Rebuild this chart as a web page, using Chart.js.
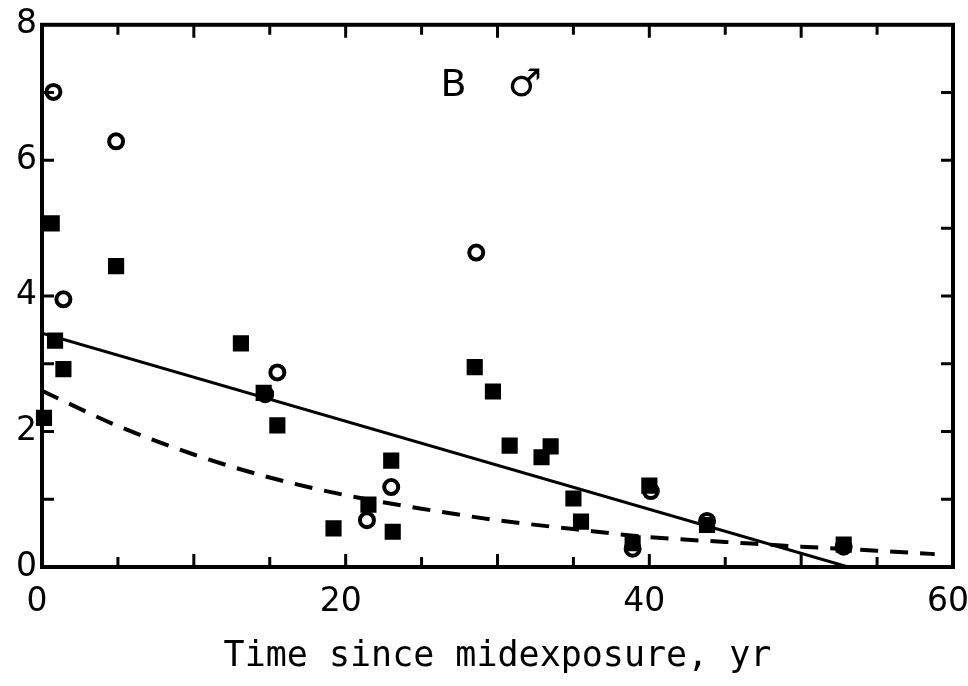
<!DOCTYPE html>
<html>
<head>
<meta charset="utf-8">
<script src="https://cdn.jsdelivr.net/npm/chart.js@4"></script>
<style>
  html, body { margin: 0; padding: 0; background: #fff; overflow: hidden; }
  canvas { display: block; }
</style>
</head>
<body>
<canvas id="riskChart" width="968" height="686"></canvas>
<script>
// filled squares
const squareX = [0.13, 0.64, 0.86, 1.41, 4.88, 13.1, 14.6, 15.5, 19.2, 21.5, 23.0, 23.1,
                 28.5, 29.7, 30.8, 32.9, 33.5, 35.0, 35.5, 38.9, 40.0, 43.8, 52.8];
const squareY = [2.20, 5.07, 3.34, 2.92, 4.44, 3.30, 2.57, 2.09, 0.57, 0.92, 1.57, 0.52,
                 2.95, 2.59, 1.79, 1.62, 1.78, 1.01, 0.67, 0.35, 1.20, 0.62, 0.33];

// open circles
const circleX = [0.75, 1.41, 4.88, 14.7, 15.5, 21.4, 23.0, 28.6, 38.9, 40.1, 43.8, 52.8];
const circleY = [7.01, 3.95, 6.28, 2.55, 2.87, 0.69, 1.18, 4.64, 0.27, 1.12, 0.68, 0.30];

// fitted lines
const solidX = [0, 53.1];
const solidY = [3.45, 0];
const dashX = [0, 5, 10, 15, 20, 25, 30, 35, 40, 45, 50, 55, 58.8];
const dashY = [2.6, 2.08, 1.66, 1.32, 1.06, 0.86, 0.69, 0.56, 0.44, 0.37, 0.30, 0.24, 0.19];

const xTickLabels = [0, 20, 40, 60];
const yTickLabels = [0, 2, 4, 6, 8];
const panelText = ['B', '\u2642'];
const panelX = [27.1, 31.8];
const panelY = [7.1, 7.1];

const toPoints = (xs, ys) => xs.map((v, i) => ({ x: v, y: ys[i] }));

// frame with inward ticks on all four sides, plus the panel label
const framePlugin = {
  id: 'frame',
  afterDatasetsDraw(chart) {
    const { ctx, chartArea: a, scales: { x, y } } = chart;
    ctx.save();
    ctx.strokeStyle = '#000';
    ctx.lineCap = 'butt';
    ctx.lineWidth = 4;
    ctx.strokeRect(a.left, a.top, a.right - a.left, a.bottom - a.top);
    ctx.lineWidth = 3;
    ctx.beginPath();
    for (let v = 5; v < 60; v += 5) {
      const px = x.getPixelForValue(v);
      const len = v % 10 === 0 ? 13 : 10;
      ctx.moveTo(px, a.bottom); ctx.lineTo(px, a.bottom - len);
      ctx.moveTo(px, a.top); ctx.lineTo(px, a.top + len);
    }
    for (let v = 1; v < 8; v++) {
      const py = y.getPixelForValue(v);
      ctx.moveTo(a.left, py); ctx.lineTo(a.left + 12, py);
      ctx.moveTo(a.right, py); ctx.lineTo(a.right - 12, py);
    }
    ctx.stroke();

    ctx.fillStyle = '#000';
    ctx.font = '38px "DejaVu Sans"';
    ctx.textAlign = 'center';
    ctx.textBaseline = 'middle';
    panelText.forEach((t, i) => {
      ctx.fillText(t, x.getPixelForValue(panelX[i]), y.getPixelForValue(panelY[i]));
    });
    ctx.restore();
  }
};

const ctx = document.getElementById('riskChart').getContext('2d');
new Chart(ctx, {
  type: 'scatter',
  data: {
    datasets: [
      {
        type: 'line',
        data: toPoints(solidX, solidY),
        borderColor: '#000',
        borderWidth: 3,
        pointRadius: 0,
        fill: false
      },
      {
        type: 'line',
        data: toPoints(dashX, dashY),
        borderColor: '#000',
        borderWidth: 4,
        borderDash: [18, 12],
        pointRadius: 0,
        cubicInterpolationMode: 'monotone',
        fill: false
      },
      {
        data: toPoints(squareX, squareY),
        pointStyle: 'rect',
        pointRadius: 10,
        backgroundColor: '#000',
        borderColor: '#000',
        borderWidth: 2,
        clip: false
      },
      {
        data: toPoints(circleX, circleY),
        pointStyle: 'circle',
        pointRadius: 7,
        backgroundColor: 'rgba(255,255,255,0)',
        borderColor: '#000',
        borderWidth: 4,
        clip: false
      }
    ]
  },
  options: {
    responsive: false,
    animation: false,
    layout: { padding: { top: 23, right: 15, bottom: 0, left: 0 } },
    plugins: { legend: { display: false }, tooltip: { enabled: false } },
    scales: {
      x: {
        type: 'linear',
        min: 0,
        max: 60,
        grid: { display: false, drawTicks: false },
        border: { display: false },
        ticks: {
          stepSize: 20,
          autoSkip: false,
          maxRotation: 0,
          padding: 16,
          labelOffset: -5,
          color: '#000',
          font: { family: 'DejaVu Sans', size: 33 },
          callback: v => xTickLabels.includes(v) ? String(v) : ''
        },
        title: {
          display: true,
          text: 'Time since midexposure, yr',
          color: '#000',
          font: { family: 'DejaVu Sans Mono', size: 35 },
          padding: { top: 0, bottom: 8 }
        },
        afterFit(scale) {
          scale.height = 119;
          scale.paddingLeft = 0;
          scale.paddingRight = 0;
        }
      },
      y: {
        type: 'linear',
        min: 0,
        max: 8,
        grid: { display: false, drawTicks: false },
        border: { display: false },
        ticks: {
          stepSize: 2,
          autoSkip: false,
          padding: 5,
          color: '#000',
          font: { family: 'DejaVu Sans', size: 33 },
          callback: v => yTickLabels.includes(v) ? String(v) : ''
        },
        afterFit(scale) {
          scale.width = 42;
        }
      }
    }
  },
  plugins: [framePlugin]
});
</script>
</body>
</html>
